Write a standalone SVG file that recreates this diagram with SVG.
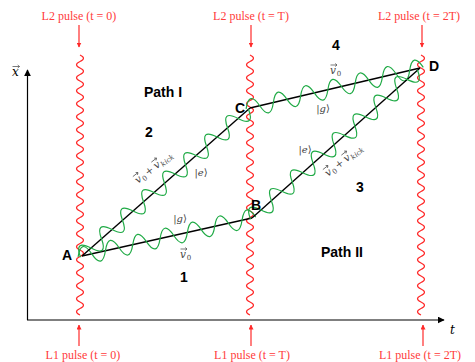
<svg xmlns="http://www.w3.org/2000/svg" xmlns:xlink="http://www.w3.org/1999/xlink" width="475" height="362" viewBox="0 0 475 362">
  <style>
    .pulse-lbl { font-family: "Liberation Serif", serif; font-size: 12px; fill: #ff3b3b; text-anchor: middle; }
    .red { stroke: #ff2a2a; stroke-width: 1.2; fill: none; }
    .green { stroke: #1faa45; stroke-width: 1.2; fill: none; }
    .path { stroke: #000; stroke-width: 1.4; fill: none; }
    .axis { stroke: #000; stroke-width: 1.2; fill: none; }
    .bold { font-family: "Liberation Sans", Arial, sans-serif; font-weight: bold; font-size: 14px; fill: #000; text-anchor: middle; }
    .math { font-family: "DejaVu Serif", serif; font-size: 10px; fill: #444; text-anchor: middle; }
    .mv { font-family: "DejaVu Serif", serif; font-size: 10.5px; font-style: italic; fill: #444; }
    .sub { font-family: "DejaVu Serif", serif; font-size: 7px; fill: #444; }
    .vec { stroke: #444; stroke-width: 0.7; fill: none; }
    .axlbl { font-family: "DejaVu Serif", serif; font-style: italic; font-size: 12px; fill: #000; }
  </style>
  <defs>
    <marker id="arrBlack" viewBox="0 0 10 10" refX="9" refY="5" markerWidth="7" markerHeight="7" markerUnits="userSpaceOnUse" orient="auto">
      <path d="M0 0 L10 5 L0 10 z" fill="#000"/>
    </marker>
    <marker id="arrRed" viewBox="0 0 10 10" refX="9" refY="5" markerWidth="5" markerHeight="5" markerUnits="userSpaceOnUse" orient="auto">
      <path d="M0 0 L10 5 L0 10 z" fill="#ff2a2a"/>
    </marker>
    <!-- vector arrow drawn above a symbol -->
    <path id="vecbar" class="vec" d="M0.5 -9 H7 M5.2 -10.5 L7 -9 L5.2 -7.5"/>
    <!-- italic v with vector arrow and subscript 0 -->
    <g id="v0">
      <text class="mv" x="0" y="0">v</text>
      <use xlink:href="#vecbar"/>
      <text class="sub" x="6.8" y="2">0</text>
    </g>
    <!-- v0 + vkick -->
    <g id="vsum">
      <use xlink:href="#v0"/>
      <text class="math" x="17" y="0">+</text>
      <text class="mv" x="23.5" y="0">v</text>
      <use xlink:href="#vecbar" x="23.5"/>
      <text class="sub" x="30.3" y="2" font-style="italic">kick</text>
    </g>
    <!-- vertical laser pulse wave -->
    <path id="pulse" class="red" d="M0 55 q7 3.25 0 6.5 t0 6.5 t0 6.5 t0 6.5 t0 6.5 t0 6.5 t0 6.5 t0 6.5 t0 6.5 t0 6.5 t0 6.5 t0 6.5 t0 6.5 t0 6.5 t0 6.5 t0 6.5 t0 6.5 t0 6.5 t0 6.5 t0 6.5 t0 6.5 t0 6.5 t0 6.5 t0 6.5 t0 6.5 t0 6.5 t0 6.5 t0 6.5 t0 6.5 t0 6.5 t0 6.5 t0 6.5 t0 6.5 t0 6.5 t0 6.5 t0 6.5 t0 6.5 t0 6.5 t0 6.5 t0 6.5"/>
  </defs>

  <!-- axes -->
  <g id="axes">
    <path class="axis" d="M27.5 320 L27.5 70" marker-end="url(#arrBlack)"/>
    <path class="axis" d="M27 320 L444 320" marker-end="url(#arrBlack)"/>
    <text class="axlbl" x="12" y="76">x</text>
    <path class="vec" d="M12.5 66.5 H19.5 M17.7 65 L19.5 66.5 L17.7 68" stroke="#000"/>
    <text class="axlbl" x="450" y="334">t</text>
  </g>

  <!-- laser pulses -->
  <g id="pulse-0">
    <use xlink:href="#pulse" x="80"/>
    <path class="red" d="M79 25 L79 47" marker-end="url(#arrRed)"/>
    <path class="red" d="M79 346 L79 325" marker-end="url(#arrRed)"/>
    <text class="pulse-lbl" x="79" y="20">L2 pulse (t = 0)</text>
    <text class="pulse-lbl" x="83" y="359">L1 pulse (t = 0)</text>
  </g>
  <g id="pulse-T">
    <use xlink:href="#pulse" x="250"/>
    <path class="red" d="M251 25 L251 47" marker-end="url(#arrRed)"/>
    <path class="red" d="M251 346 L251 325" marker-end="url(#arrRed)"/>
    <text class="pulse-lbl" x="251" y="20">L2 pulse (t = T)</text>
    <text class="pulse-lbl" x="252" y="359">L1 pulse (t = T)</text>
  </g>
  <g id="pulse-2T">
    <use xlink:href="#pulse" x="421"/>
    <path class="red" d="M422 25 L422 47" marker-end="url(#arrRed)"/>
    <path class="red" d="M423 346 L423 325" marker-end="url(#arrRed)"/>
    <text class="pulse-lbl" x="419" y="20">L2 pulse (t = 2T)</text>
    <text class="pulse-lbl" x="420" y="359">L1 pulse (t = 2T)</text>
  </g>

  <!-- interferometer arms -->
  <g id="connectors">
    <g id="arm-AB">
      <path class="path" d="M82 256 L252 218"/>
      <g transform="translate(82 256) rotate(-12.6)">
        <path class="green" d="M-4 0 q7 -18 14 0 t14 0 t14 0 t14 0 t14 0 t14 0 t14 0 t14 0 t14 0 t14 0 t14 0 t14 0 t14 0"/>
      </g>
    </g>
    <g id="arm-AC">
      <path class="path" d="M82 256 L250 108"/>
      <g transform="translate(82 256) rotate(-41.4)">
        <path class="green" d="M-2 0 q7 -18 14 0 t14 0 t14 0 t14 0 t14 0 t14 0 t14 0 t14 0 t14 0 t14 0 t14 0 t14 0 t14 0 t14 0 t14 0 t14 0"/>
      </g>
    </g>
    <g id="arm-CD">
      <path class="path" d="M250 108 L420 68"/>
      <g transform="translate(250 108) rotate(-13.2)">
        <path class="green" d="M-4 0 q7 -18 14 0 t14 0 t14 0 t14 0 t14 0 t14 0 t14 0 t14 0 t14 0 t14 0 t14 0 t14 0 t14 0"/>
      </g>
    </g>
    <g id="arm-BD">
      <path class="path" d="M252 218 L420 68"/>
      <g transform="translate(252 218) rotate(-41.8)">
        <path class="green" d="M-2 0 q7 -18 14 0 t14 0 t14 0 t14 0 t14 0 t14 0 t14 0 t14 0 t14 0 t14 0 t14 0 t14 0 t14 0 t14 0 t14 0 t14 0"/>
      </g>
    </g>
  </g>

  <!-- event points -->
  <g id="node-A"><text class="bold" x="67" y="260">A</text></g>
  <g id="node-B"><text class="bold" x="256" y="210">B</text></g>
  <g id="node-C"><text class="bold" x="240" y="113">C</text></g>
  <g id="node-D"><text class="bold" x="434" y="71">D</text></g>

  <!-- region labels -->
  <g id="labels">
    <text class="bold" x="163" y="97">Path I</text>
    <text class="bold" x="342" y="257">Path II</text>
    <text class="bold" x="184" y="282">1</text>
    <text class="bold" x="149" y="137">2</text>
    <text class="bold" x="360" y="192">3</text>
    <text class="bold" x="336" y="50">4</text>

    <text class="math" x="180" y="222">|<tspan font-style="italic">g</tspan>⟩</text>
    <text class="math" x="323" y="112">|<tspan font-style="italic">g</tspan>⟩</text>
    <text class="math" x="201" y="176">|<tspan font-style="italic">e</tspan>⟩</text>
    <text class="math" x="305" y="153">|<tspan font-style="italic">e</tspan>⟩</text>

    <use xlink:href="#v0" transform="translate(180 258)"/>
    <use xlink:href="#v0" transform="translate(330 74)"/>
    <use xlink:href="#vsum" transform="translate(138 184) rotate(-38)"/>
    <use xlink:href="#vsum" transform="translate(328 177) rotate(-38)"/>
  </g>
</svg>
